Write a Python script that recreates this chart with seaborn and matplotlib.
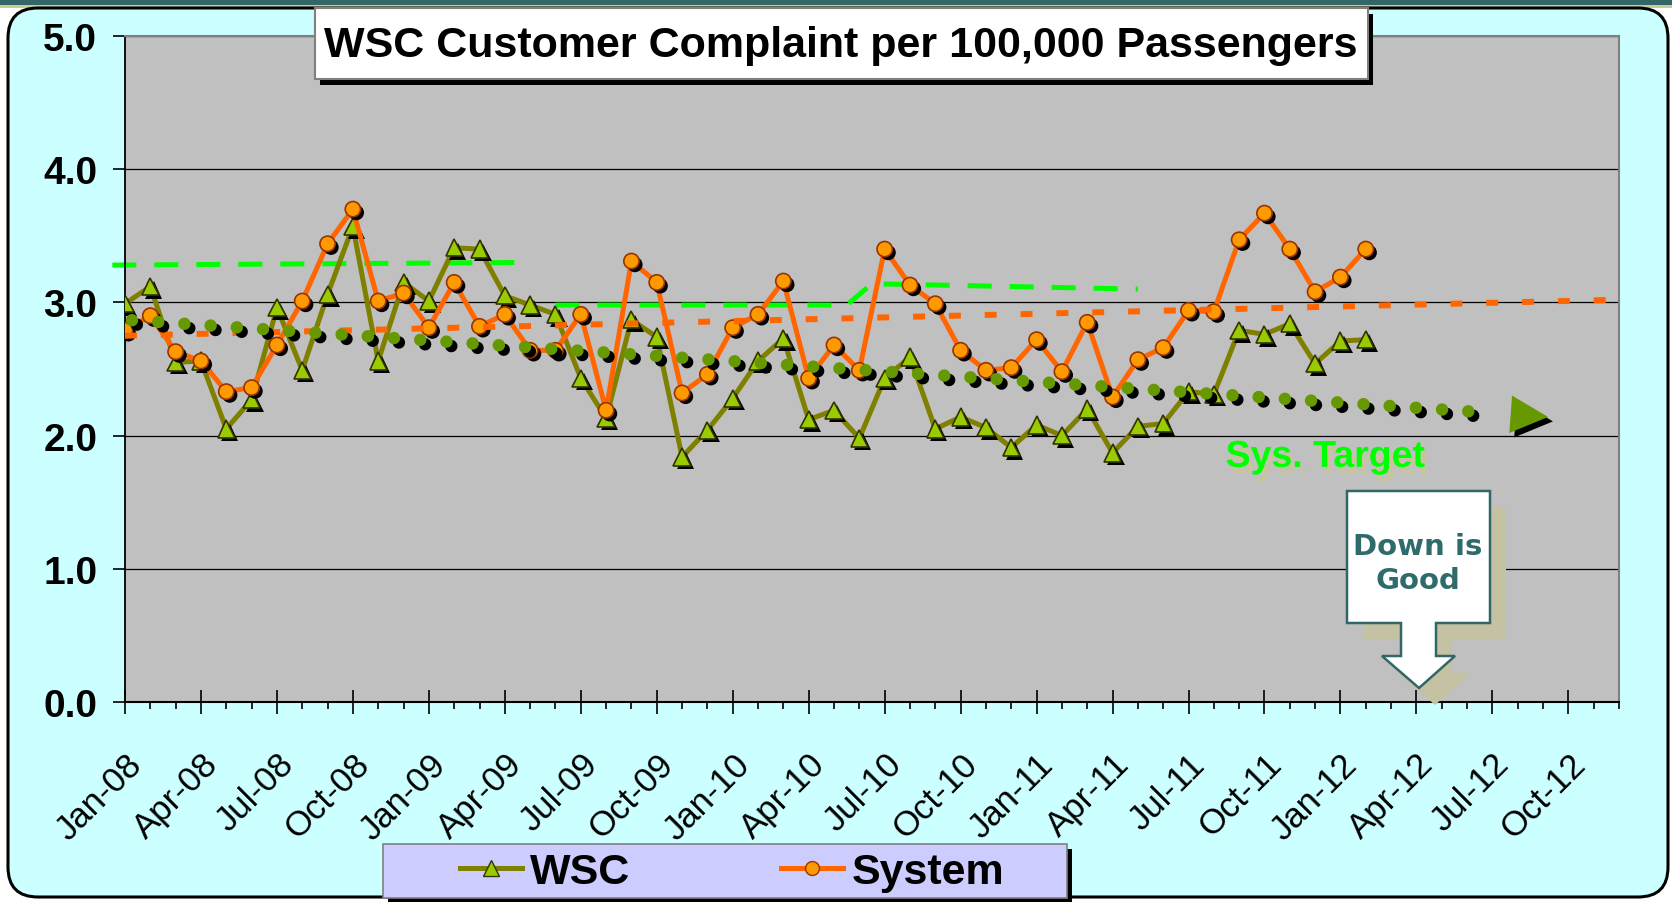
import numpy as np
import pandas as pd
import seaborn as sns
import matplotlib
matplotlib.use("Agg")
import matplotlib.pyplot as plt
import matplotlib.patheffects as pe
from matplotlib.patches import Rectangle, FancyBboxPatch, Polygon
from matplotlib.lines import Line2D
from matplotlib.ticker import MultipleLocator
from matplotlib.transforms import ScaledTranslation

plt.rcParams["font.family"] = ["Liberation Sans", "DejaVu Sans"]

W, H = 1672, 903

# Monthly values, index 0 = Jan-08
wsc = [2.99, 3.12, 2.55, 2.56, 2.05, 2.27, 2.96, 2.49, 3.06, 3.57,
       2.56, 3.15, 3.01, 3.41, 3.40, 3.05, 2.98, 2.91, 2.43, 2.13,
       2.87, 2.74, 1.84, 2.04, 2.28, 2.56, 2.73, 2.12, 2.19, 1.98,
       2.43, 2.59, 2.05, 2.14, 2.06, 1.91, 2.08, 2.00, 2.20, 1.87,
       2.07, 2.09, 2.33, 2.31, 2.79, 2.76, 2.84, 2.54, 2.71, 2.72]
system = [2.79, 2.90, 2.63, 2.56, 2.33, 2.36, 2.68, 3.01, 3.44, 3.70,
          3.01, 3.07, 2.81, 3.15, 2.82, 2.91, 2.64, 2.64, 2.91, 2.19,
          3.31, 3.15, 2.32, 2.46, 2.81, 2.91, 3.16, 2.43, 2.68, 2.49,
          3.40, 3.13, 2.99, 2.64, 2.49, 2.51, 2.72, 2.48, 2.85, 2.29,
          2.57, 2.66, 2.94, 2.93, 3.47, 3.67, 3.40, 3.08, 3.19, 3.40]

# x axis runs Jan-08 .. Dec-12
axis_months = pd.date_range("2008-01-01", periods=60, freq="MS")
tick_labels = list(axis_months.strftime("%b-%y"))[::3]

# system target (step line, two pieces)
tgt1_m = [-0.5, 16]
tgt1_v = [3.28, 3.30]
tgt2_m = [17, 28.5, 29.5, 40]
tgt2_v = [2.98, 2.98, 3.14, 3.10]

# trend lines
wsc_trend_m = [0, 54, 56.2]
wsc_trend_v = [2.87, 2.17, 2.14]
sys_trend_m = [0, 59]
sys_trend_v = [2.75, 3.02]

df = pd.DataFrame({"month": np.arange(len(wsc)), "WSC": wsc, "System": system})

OLIVE = "#808000"
ORANGE = "#FF6600"

fig = plt.figure(figsize=(W / 100, H / 100), dpi=100, facecolor="white")
T = fig.dpi_scale_trans


def px(x, y):
    # pixel position (from top-left) -> inches for dpi_scale_trans
    return (x / 100, (H - y) / 100)


# background frame
fig.add_artist(Rectangle(px(0, 6), W / 100, 0.06, transform=T, fc="#336666", ec="none", zorder=-6))
fig.add_artist(Rectangle(px(0, 9), W / 100, 0.03, transform=T, fc="#CCCC99", ec="none", zorder=-6))
fig.add_artist(FancyBboxPatch(px(8, 898), (1668 - 8) / 100, (898 - 9) / 100,
                              boxstyle="round,pad=0,rounding_size=0.3", transform=T,
                              fc="#CCFFFF", ec="black", lw=2.2, zorder=-5))

ax = fig.add_axes([125 / W, 1 - 703 / H, (1619 - 125) / W, (703 - 37) / H])
ax.set_facecolor("#C0C0C0")

# target
ax.plot(tgt1_m, tgt1_v, color="#00FF00", lw=3.6, dashes=(4.8, 3.6), clip_on=False, zorder=2.5)
ax.plot(tgt2_m, tgt2_v, color="#00FF00", lw=3.6, dashes=(4.8, 3.6), zorder=2.5)

# series lines
sns.lineplot(data=df, x="month", y="WSC", color=OLIVE, lw=3.6, ax=ax, zorder=3)
sns.lineplot(data=df, x="month", y="System", color=ORANGE, lw=3.6, ax=ax, zorder=4)

# markers with black drop shadow
ax.plot(df["month"], df["WSC"], ls="none", marker="^", ms=12.5, mfc="#99CC00", mec="#333300", mew=1.2,
        zorder=3.5, path_effects=[pe.SimplePatchShadow(offset=(2.5, -2.5), shadow_rgbFace="black",
                                                       alpha=1, foreground="black"), pe.Normal()])
ax.plot(df["month"], df["System"], ls="none", marker="o", ms=11, mfc="#FF9900", mec="#993300", mew=1.2,
        zorder=4.5, path_effects=[pe.SimplePatchShadow(offset=(2.5, -2.5), shadow_rgbFace="black",
                                                       alpha=1, foreground="black"), pe.Normal()])

# trend lines
ax.plot(sys_trend_m, sys_trend_v, color=ORANGE, lw=4.3, dashes=(2, 4), zorder=5)
ax.plot(wsc_trend_m[:2], wsc_trend_v[:2], color="#669900", lw=9, linestyle=(1.54, (0.001, 2.1)),
        dash_capstyle="round", zorder=6,
        path_effects=[pe.SimpleLineShadow(offset=(3.5, -3.2), shadow_color="black", alpha=1), pe.Normal()])
arr = ax.annotate("", xy=(wsc_trend_m[2], wsc_trend_v[2]), xytext=(wsc_trend_m[1], wsc_trend_v[1]),
                  arrowprops=dict(arrowstyle="-|>,head_length=0.9,head_width=0.45", mutation_scale=30,
                                  color="#669900", lw=0, shrinkA=0, shrinkB=0), zorder=6)
arr.arrow_patch.set_path_effects([pe.SimplePatchShadow(offset=(3.5, -3.2), shadow_rgbFace="black", alpha=1),
                                  pe.Normal()])

ax.text(47.4, 1.84, "Sys. Target", color="#00FF00", fontsize=27, fontweight="bold", ha="center", va="center",
        zorder=7, path_effects=[pe.SimplePatchShadow(offset=(3, -5), shadow_rgbFace="#C8C4A0", alpha=1),
                                pe.Normal()])

# axes styling
ax.set_xlim(0, 59)
ax.set_ylim(0, 5)
ax.set_xlabel("")
ax.set_ylabel("")
ax.set_xticks(range(0, 60, 3))
ax.set_xticklabels(tick_labels, rotation=45, ha="right", va="top", rotation_mode="anchor", fontsize=25)
shift = ScaledTranslation(-0.06, 0, fig.dpi_scale_trans)
for lbl in ax.get_xticklabels():
    lbl.set_transform(lbl.get_transform() + shift)
ax.xaxis.set_minor_locator(MultipleLocator(1))
ax.tick_params(axis="x", which="major", direction="inout", length=17, width=1.2, pad=24)
ax.tick_params(axis="x", which="minor", direction="out", length=5, width=1.2)
ax.set_yticks(np.arange(0, 5.1, 1))
ax.set_yticklabels([f"{v:.1f}" for v in np.arange(0, 5.1, 1)], fontsize=28, fontweight="bold")
ax.tick_params(axis="y", direction="out", length=9, width=1.2, pad=11)
ax.yaxis.grid(True, color="black", lw=0.9)
ax.set_axisbelow(True)
for s in ["top", "right"]:
    ax.spines[s].set_color("#808080")
    ax.spines[s].set_linewidth(1.5)
ax.spines["left"].set_color("black")
ax.spines["left"].set_linewidth(1.3)
ax.spines["bottom"].set_color("black")
ax.spines["bottom"].set_linewidth(1.5)

# title box
fig.add_artist(Rectangle(px(320, 86), (1373 - 320) / 100, (86 - 15) / 100, transform=T,
                         fc="black", ec="none", zorder=9))
fig.add_artist(Rectangle(px(315, 80), (1368 - 315) / 100, (80 - 9) / 100, transform=T,
                         fc="white", ec="#808080", lw=1.5, zorder=10))
fig.text(*px(841, 46), "WSC Customer Complaint per 100,000 Passengers", transform=T,
         fontsize=31, fontweight="bold", ha="center", va="center", zorder=11)

# "Down is Good" callout
callout = [(1347, 492), (1490, 492), (1490, 624), (1436, 624), (1436, 657), (1455, 657),
           (1419, 689), (1382, 657), (1401, 657), (1401, 624), (1347, 624)]
fig.add_artist(Polygon([px(x + 16, y + 17) for x, y in callout], closed=True, transform=T,
                       fc="#C4C2A2", ec="none", zorder=8))
fig.add_artist(Polygon([px(x, y) for x, y in callout], closed=True, transform=T,
                       fc="white", ec="#336666", lw=1.8, zorder=9))
fig.text(*px(1418, 564), "Down is\nGood", transform=T, fontsize=21, fontweight="bold",
         family="DejaVu Sans", color="#2F6B6B", ha="center", va="center", linespacing=1.3, zorder=10)

# legend box
fig.add_artist(Rectangle(px(388, 903), (1072 - 388) / 100, (903 - 850) / 100, transform=T,
                         fc="black", ec="none", zorder=9))
fig.add_artist(Rectangle(px(383, 899), (1067 - 383) / 100, (899 - 845) / 100, transform=T,
                         fc="#CCCCFF", ec="#808080", lw=1.2, zorder=10))
handles = [Line2D([], [], color=OLIVE, lw=3.6, marker="^", ms=11, mfc="#99CC00", mec="#333300"),
           Line2D([], [], color=ORANGE, lw=3.6, marker="o", ms=10, mfc="#FF9900", mec="#993300")]
leg = fig.legend(handles, ["WSC", "System"], loc="center left", bbox_to_anchor=px(460, 873),
                 bbox_transform=T, ncol=2, frameon=False, prop={"size": 31, "weight": "bold"},
                 handlelength=1.44, handletextpad=0.19, columnspacing=3.5, borderpad=0, borderaxespad=0)
leg.set_zorder(11)

fig.savefig("out.png", dpi=100, facecolor=fig.get_facecolor())
